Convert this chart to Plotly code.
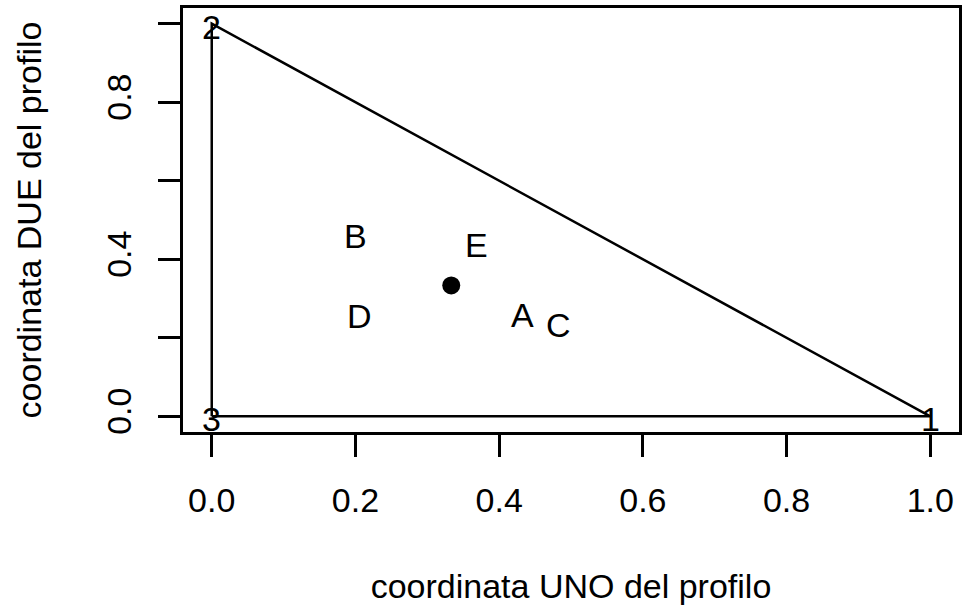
import plotly.graph_objects as go

# Vertices of the simplex
vertex_labels = ["1", "2", "3"]
vertex_x = [1.0, 0.0, 0.0]
vertex_y = [0.0, 1.0, 0.0]

# Profiles
profile_labels = ["A", "B", "C", "D", "E"]
profile_x = [0.433, 0.200, 0.482, 0.205, 0.369]
profile_y = [0.266, 0.466, 0.240, 0.263, 0.443]

# Centroid
centroid_x = [1 / 3]
centroid_y = [1 / 3]

x_tickvals = [0.0, 0.2, 0.4, 0.6, 0.8, 1.0]
x_ticktext = ["0.0", "0.2", "0.4", "0.6", "0.8", "1.0"]
y_tickvals = [0.0, 0.2, 0.4, 0.6, 0.8, 1.0]
y_ticktext = ["0.0", "", "0.4", "", "0.8", ""]

FONT = "Liberation Sans, Arial, Helvetica, sans-serif"
FS = 34

fig = go.Figure()

# triangle edges
fig.add_trace(go.Scatter(
    x=[vertex_x[2], vertex_x[0], vertex_x[1], vertex_x[2]],
    y=[vertex_y[2], vertex_y[0], vertex_y[1], vertex_y[2]],
    mode="lines", line=dict(color="black", width=2.5),
    hoverinfo="skip", showlegend=False))

# centroid
fig.add_trace(go.Scatter(
    x=centroid_x, y=centroid_y, mode="markers",
    marker=dict(color="black", size=18),
    showlegend=False))

# text labels (vertices and profiles)
for lab, xv, yv in zip(vertex_labels + profile_labels,
                       vertex_x + profile_x, vertex_y + profile_y):
    fig.add_annotation(x=xv, y=yv, xref="x", yref="y", text=lab,
                       showarrow=False, xanchor="center", yanchor="middle",
                       yshift=-3,
                       font=dict(family=FONT, size=FS, color="black"))

fig.update_layout(
    width=964, height=607,
    margin=dict(l=183, r=2, t=8, b=175),
    plot_bgcolor="white", paper_bgcolor="white",
    font=dict(family=FONT, size=FS, color="black"),
    xaxis=dict(
        range=[-0.04, 1.04], tickmode="array",
        tickvals=x_tickvals, ticktext=x_ticktext,
        ticks="outside", ticklen=22, tickwidth=2.5, tickcolor="black",
        ticklabelstandoff=14,
        showline=True, linecolor="black", linewidth=2.5, mirror=True,
        showgrid=False, zeroline=False,
        title=dict(text="coordinata UNO del profilo", standoff=57,
                   font=dict(family=FONT, size=FS)),
        tickfont=dict(family=FONT, size=FS)),
    yaxis=dict(
        range=[-0.04, 1.04], tickmode="array",
        tickvals=y_tickvals, ticktext=y_ticktext, tickangle=-90,
        ticks="outside", ticklen=22, tickwidth=2.5, tickcolor="black",
        ticklabelstandoff=14,
        showline=True, linecolor="black", linewidth=2.5, mirror=True,
        showgrid=False, zeroline=False,
        title=dict(text="coordinata DUE del profilo", standoff=48,
                   font=dict(family=FONT, size=FS)),
        tickfont=dict(family=FONT, size=FS)),
)

fig.write_html("out.html")
